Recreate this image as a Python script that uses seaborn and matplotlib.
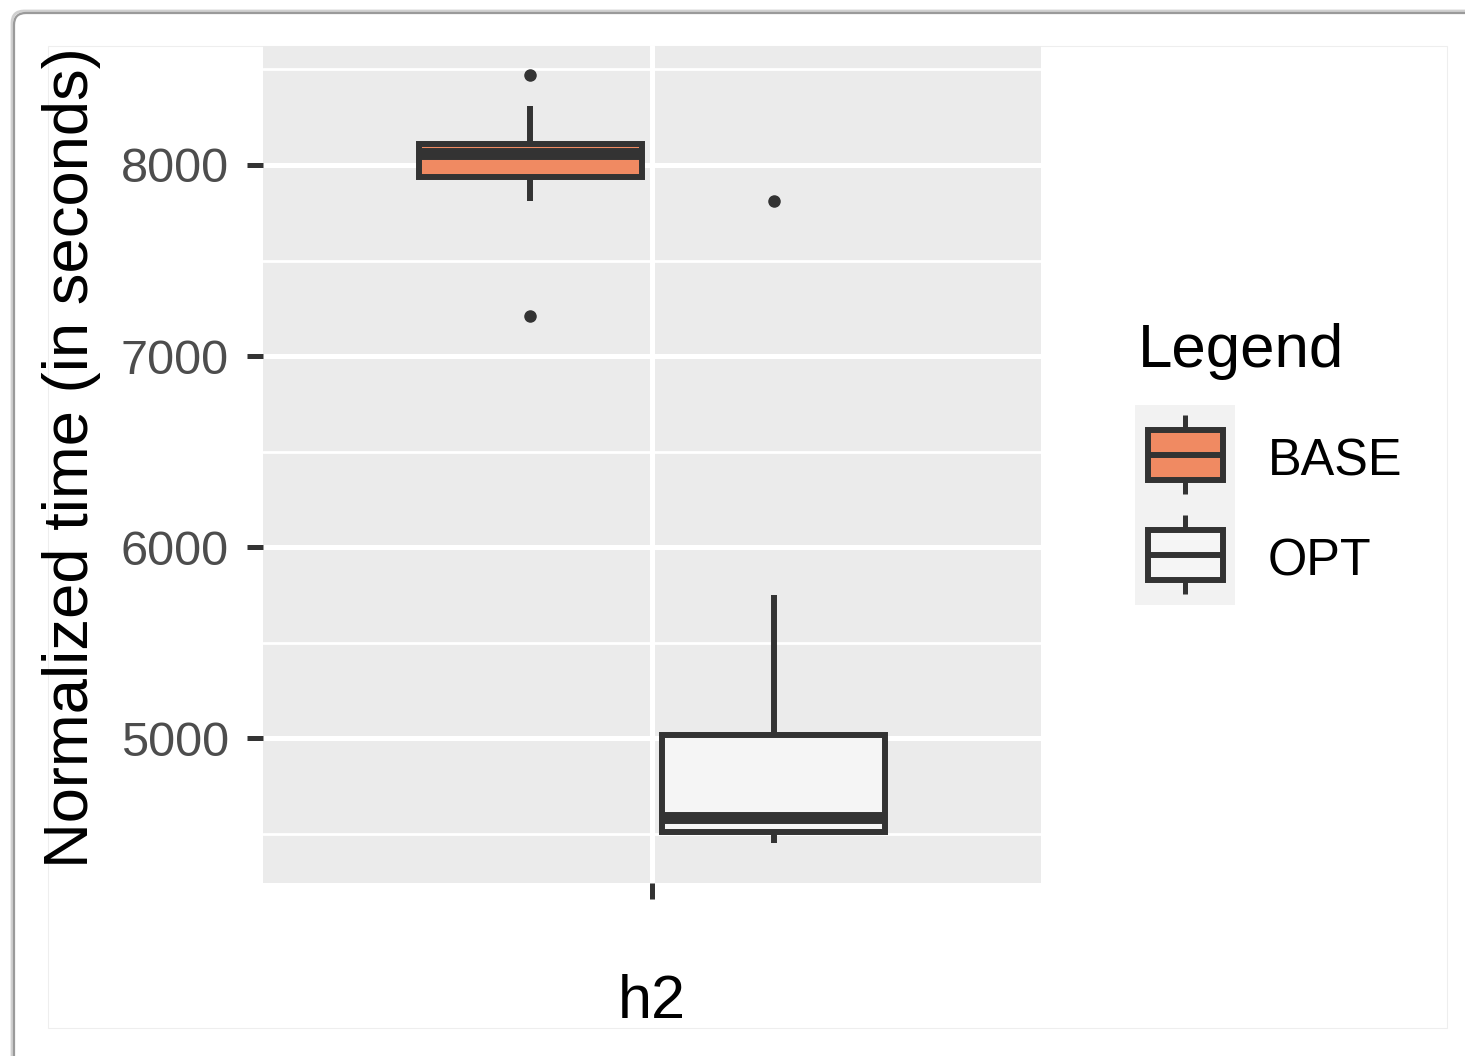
import numpy as np
import pandas as pd
import matplotlib
matplotlib.use("Agg")
import matplotlib.pyplot as plt
from matplotlib.patches import Rectangle, FancyBboxPatch
from matplotlib.lines import Line2D
from matplotlib.legend_handler import HandlerBase
from matplotlib.transforms import IdentityTransform
import seaborn as sns

# ---- data -------------------------------------------------------------
benchmark = "h2"
versions = ["BASE", "OPT"]
base_times = [7211, 7812, 7936, 8010, 8056, 8085, 8111, 8309, 8473]
opt_times = [4449, 4480, 4508, 4540, 4581, 4750, 5017, 5749, 7810]
y_major = [5000, 6000, 7000, 8000]
y_minor = [4500, 5500, 6500, 7500, 8500]
fill_colors = {"BASE": "#F08A62", "OPT": "#F5F5F5"}

df = pd.DataFrame({
    "benchmark": benchmark,
    "version": ["BASE"] * len(base_times) + ["OPT"] * len(opt_times),
    "time": base_times + opt_times,
})

# ---- style ------------------------------------------------------------
sns.set_style("white")
plt.rcParams["font.family"] = ["Liberation Sans", "DejaVu Sans"]
plt.rcParams["text.color"] = "black"

W, H = 1465, 1056
fig = plt.figure(figsize=(W / 100, H / 100), dpi=100, facecolor="white")


def frac(x0, y0, x1, y1):
    return [x0 / W, 1 - y1 / H, (x1 - x0) / W, (y1 - y0) / H]


# card outline with soft top/left shadow
for off, col, lw in [(2, "#D0D0D0", 2.0), (0, "#9A9A9A", 1.6)]:
    fig.patches.append(FancyBboxPatch(
        (14 - off, -40), W + 40, H - 13 + 40 + off,
        boxstyle="round,pad=0,rounding_size=12",
        fc="none" if off else "white", ec=col, lw=lw,
        transform=IdentityTransform(), zorder=-5 + (0 if off else 1)))
fig.patches.append(Rectangle((48, H - 1028), 1399, 982, fc="none", ec="#EEEEEE",
                             lw=0.8, transform=IdentityTransform(), zorder=-3))

ax = fig.add_axes(frac(263, 46, 1041, 883))
ax.set_facecolor("#EBEBEB")

sns.boxplot(
    data=df, x="benchmark", y="time", hue="version", hue_order=versions,
    palette=fill_colors, saturation=1, width=0.75, gap=0.08,
    linecolor="#333333", linewidth=4.3, showcaps=False,
    fliersize=8,
    flierprops=dict(marker="o", markerfacecolor="#333333", markeredgecolor="#333333"),
    medianprops=dict(linewidth=8.6),
    legend=False, ax=ax,
)

ax.set_xlim(-0.6, 0.6)
ax.set_ylim(4241, 8623)
ax.set_yticks(y_major)
ax.set_yticklabels([str(v) for v in y_major])
ax.set_yticks(y_minor, minor=True)
ax.set_axisbelow(True)
ax.grid(which="major", color="white", lw=3.6)
ax.yaxis.grid(True, which="minor", color="white", lw=2.0)
ax.xaxis.grid(False, which="minor")
for s in ax.spines.values():
    s.set_visible(False)

ax.tick_params(which="major", left=True, bottom=True, direction="out",
               length=11.5, width=3.6, color="#333333")
ax.tick_params(which="minor", left=False, bottom=False, length=0)
ax.tick_params(axis="y", labelsize=35, labelcolor="#4D4D4D", pad=13)
ax.tick_params(axis="x", labelsize=44, labelcolor="black", pad=54)
ax.set_xlabel("")
ax.set_ylabel("Normalized time (in seconds)", fontsize=45.6, color="black")
ax.yaxis.set_label_coords(-0.208, 0.508)


# ---- legend with boxplot glyphs ----------------------------------------
KEY_EXT = 6.4  # points each key cell reaches above its own drawing area
LEG_FS = 36.4


class BoxKey(HandlerBase):
    def create_artists(self, legend, orig_handle, xd, yd, w, h, fontsize, trans):
        x0, y0 = -xd, -yd
        h = h + KEY_EXT
        fill = orig_handle.get_facecolor()
        cx = x0 + w / 2
        return [
            Rectangle((x0, y0), w, h, fc="#F2F2F2", ec="none", transform=trans),
            Line2D([cx, cx], [y0 + 0.11 * h, y0 + 0.90 * h], color="#333333", lw=3.6,
                   solid_capstyle="butt", transform=trans),
            Rectangle((x0 + 0.13 * w, y0 + 0.25 * h), 0.75 * w, 0.5 * h, fc=fill,
                      ec="#333333", lw=4.3, transform=trans),
            Line2D([x0 + 0.13 * w, x0 + 0.88 * w], [y0 + 0.5 * h] * 2, color="#333333",
                   lw=4.3, solid_capstyle="butt", transform=trans),
        ]


handles = [Rectangle((0, 0), 1, 1, fc=fill_colors[v]) for v in versions]
leg_top_px = 405 + KEY_EXT * 100 / 72
fig.legend(handles, versions, handler_map={Rectangle: BoxKey()}, loc="upper left",
           bbox_to_anchor=(1135 / W, 1 - leg_top_px / H), frameon=False, borderpad=0,
           borderaxespad=0, fontsize=LEG_FS, labelcolor="black",
           handlelength=1.978, handleheight=2.396,
           handletextpad=0.653, labelspacing=KEY_EXT / LEG_FS)
fig.text(1138 / W, 1 - 367 / H, "Legend", fontsize=44.5, color="black",
         ha="left", va="baseline")

fig.savefig("out.png", dpi=100, facecolor="white")
